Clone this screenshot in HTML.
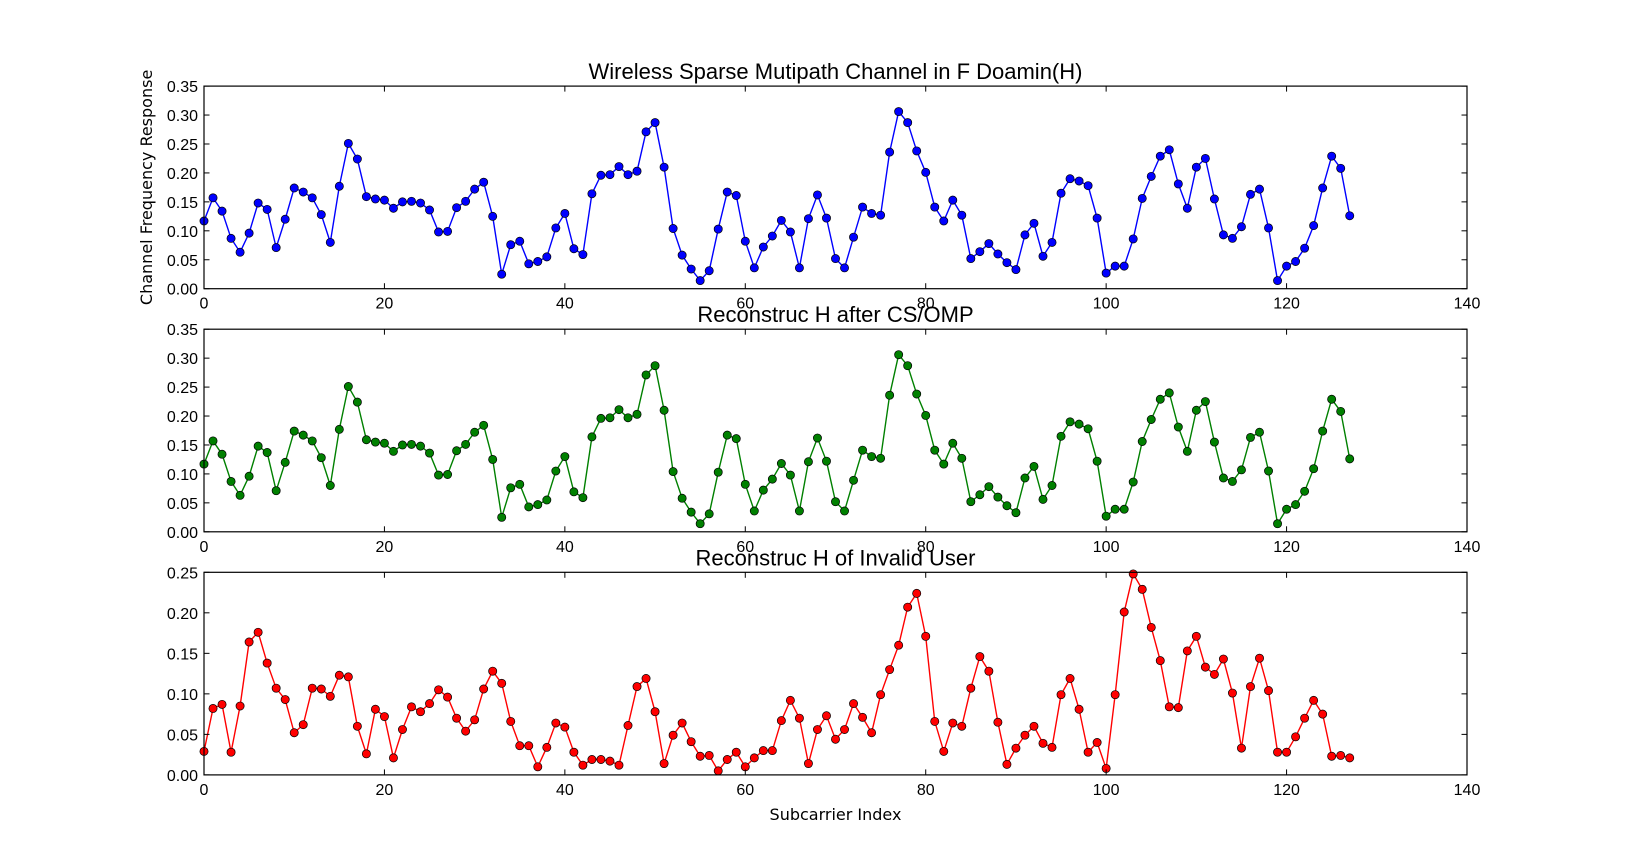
<!DOCTYPE html>
<html><head><meta charset="utf-8">
<style>
html,body{margin:0;padding:0;background:#fff;}
svg{display:block;}
text{font-family:"Liberation Sans",sans-serif;fill:#000;}
</style></head>
<body>
<svg id="fig" width="1630" height="861" xmlns="http://www.w3.org/2000/svg"></svg>
<script>
const indices = Array.from({length:128},(_,i)=>i);
const blueValues = [0.117,0.157,0.134,0.087,0.063,0.096,0.148,0.137,0.071,0.120,0.174,0.167,0.157,0.128,0.080,0.177,0.251,0.224,0.159,0.155,0.153,0.139,0.150,0.151,0.148,0.136,0.098,0.099,0.140,0.151,0.172,0.184,0.125,0.025,0.076,0.082,0.043,0.047,0.055,0.105,0.130,0.069,0.059,0.164,0.196,0.197,0.211,0.197,0.203,0.271,0.287,0.210,0.104,0.058,0.034,0.014,0.031,0.103,0.167,0.161,0.082,0.036,0.072,0.091,0.118,0.098,0.036,0.121,0.162,0.122,0.052,0.036,0.089,0.141,0.130,0.127,0.236,0.306,0.287,0.238,0.201,0.141,0.117,0.153,0.127,0.052,0.064,0.078,0.060,0.045,0.033,0.093,0.113,0.056,0.080,0.165,0.190,0.186,0.178,0.122,0.027,0.039,0.039,0.086,0.156,0.194,0.229,0.240,0.181,0.139,0.210,0.225,0.155,0.093,0.087,0.107,0.163,0.172,0.105,0.014,0.039,0.047,0.070,0.109,0.174,0.229,0.208,0.126];
const greenValues = [0.117,0.157,0.134,0.087,0.063,0.096,0.148,0.137,0.071,0.120,0.174,0.167,0.157,0.128,0.080,0.177,0.251,0.224,0.159,0.155,0.153,0.139,0.150,0.151,0.148,0.136,0.098,0.099,0.140,0.151,0.172,0.184,0.125,0.025,0.076,0.082,0.043,0.047,0.055,0.105,0.130,0.069,0.059,0.164,0.196,0.197,0.211,0.197,0.203,0.271,0.287,0.210,0.104,0.058,0.034,0.014,0.031,0.103,0.167,0.161,0.082,0.036,0.072,0.091,0.118,0.098,0.036,0.121,0.162,0.122,0.052,0.036,0.089,0.141,0.130,0.127,0.236,0.306,0.287,0.238,0.201,0.141,0.117,0.153,0.127,0.052,0.064,0.078,0.060,0.045,0.033,0.093,0.113,0.056,0.080,0.165,0.190,0.186,0.178,0.122,0.027,0.039,0.039,0.086,0.156,0.194,0.229,0.240,0.181,0.139,0.210,0.225,0.155,0.093,0.087,0.107,0.163,0.172,0.105,0.014,0.039,0.047,0.070,0.109,0.174,0.229,0.208,0.126];
const redValues = [0.029,0.082,0.087,0.028,0.085,0.164,0.176,0.138,0.107,0.093,0.052,0.062,0.107,0.106,0.097,0.123,0.121,0.060,0.026,0.081,0.072,0.021,0.056,0.084,0.078,0.088,0.105,0.096,0.070,0.054,0.068,0.106,0.128,0.113,0.066,0.036,0.036,0.010,0.034,0.064,0.059,0.028,0.012,0.019,0.019,0.017,0.012,0.061,0.109,0.119,0.078,0.014,0.049,0.064,0.041,0.023,0.024,0.005,0.019,0.028,0.010,0.021,0.030,0.030,0.067,0.092,0.070,0.014,0.056,0.073,0.044,0.056,0.088,0.071,0.052,0.099,0.130,0.160,0.207,0.224,0.171,0.066,0.029,0.064,0.060,0.107,0.146,0.128,0.065,0.013,0.033,0.049,0.060,0.039,0.034,0.099,0.119,0.081,0.028,0.040,0.008,0.099,0.201,0.248,0.229,0.182,0.141,0.084,0.083,0.153,0.171,0.133,0.124,0.143,0.101,0.033,0.109,0.144,0.104,0.028,0.028,0.047,0.070,0.092,0.075,0.023,0.024,0.021];
const xTicks = [0,20,40,60,80,100,120,140];
const yTicksTop = [0,0.05,0.10,0.15,0.20,0.25,0.30,0.35];
const yTicksBottom = [0,0.05,0.10,0.15,0.20,0.25];
const titles = ["Wireless Sparse Mutipath Channel in F Doamin(H)","Reconstruc H after CS/OMP","Reconstruc H of Invalid User"];

const NS="http://www.w3.org/2000/svg";
const svg=document.getElementById('fig');
function mk(tag,attrs,parent){const e=document.createElementNS(NS,tag);for(const k in attrs)e.setAttribute(k,attrs[k]);(parent||svg).appendChild(e);return e;}

const L=204,R=1467;
const panels=[
 {top:86.1,bot:288.7,ymax:0.35,ticks:yTicksTop,vals:blueValues,color:"#0000ff",name:"channel-panel"},
 {top:329.2,bot:531.8,ymax:0.35,ticks:yTicksTop,vals:greenValues,color:"#008000",name:"omp-panel"},
 {top:572.3,bot:774.9,ymax:0.25,ticks:yTicksBottom,vals:redValues,color:"#ff0000",name:"invalid-user-panel"}
];
panels.forEach((p,pi)=>{
  const g=mk('g',{});
  
  
  const xs=v=>L+(v/140)*(R-L);
  const ys=v=>p.bot-(v/p.ymax)*(p.bot-p.top);
  const pts=indices.map(i=>xs(i).toFixed(2)+","+ys(p.vals[i]).toFixed(2)).join(" ");
  const line=mk('polyline',{points:pts,fill:"none",stroke:p.color,"stroke-width":1.4},g);
  
  
  indices.forEach(i=>{
    const c=mk('circle',{cx:xs(i),cy:ys(p.vals[i]),r:4.1,fill:p.color,stroke:"#000","stroke-width":0.7},g);
    
    
  });
  const fr=mk('rect',{x:L,y:p.top,width:R-L,height:p.bot-p.top,fill:"none",stroke:"#000","stroke-width":1.2},g);
  
  
  xTicks.forEach(t=>{
    const x=xs(t);
    mk('line',{x1:x,x2:x,y1:p.bot,y2:p.bot-5.5,stroke:"#000","stroke-width":1},g);
    mk('line',{x1:x,x2:x,y1:p.top,y2:p.top+5.5,stroke:"#000","stroke-width":1},g);
    const tx=mk('text',{x:x,y:p.bot+20,"text-anchor":"middle","font-size":16},g);
    tx.textContent=t;
    
    
  });
  p.ticks.forEach(t=>{
    const y=ys(t);
    mk('line',{x1:L,x2:L+5.5,y1:y,y2:y,stroke:"#000","stroke-width":1},g);
    mk('line',{x1:R,x2:R-5.5,y1:y,y2:y,stroke:"#000","stroke-width":1},g);
    const tx=mk('text',{x:L-6,y:y+6,"text-anchor":"end","font-size":16},g);
    tx.textContent=t.toFixed(2);
    
    
  });
  const tt=mk('text',{x:(L+R)/2,y:p.top-7,"text-anchor":"middle","font-size":22},g);
  tt.textContent=titles[pi];
  
  
});
const yl=mk('text',{x:0,y:0,"text-anchor":"middle","font-size":16,transform:"translate(152,187.4) rotate(-90)",style:"font-family:'DejaVu Sans',sans-serif"});
yl.textContent="Channel Frequency Response";


const xl=mk('text',{x:(L+R)/2,y:820,"text-anchor":"middle","font-size":16,style:"font-family:'DejaVu Sans',sans-serif"});
xl.textContent="Subcarrier Index";


</script>
</body></html>
